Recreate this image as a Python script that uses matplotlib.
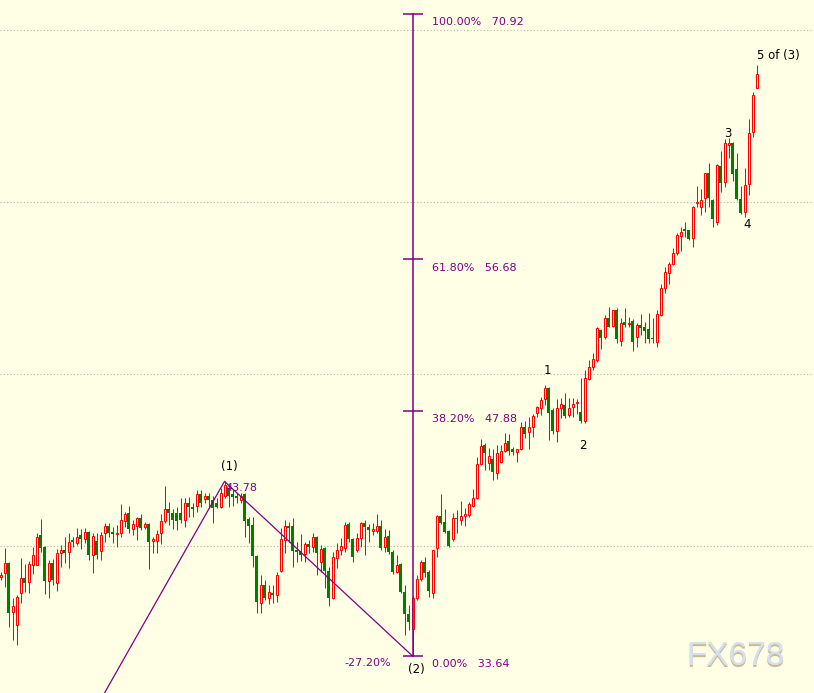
import numpy as np
import matplotlib.pyplot as plt

# daily OHLC (one value per candle, left to right)
opens = [38.23, 38.46, 39.05, 36.20, 35.44, 37.30, 38.17, 37.94, 38.93, 38.93,
         40.67, 39.97, 37.99, 39.05, 37.88, 39.62, 39.80, 39.68, 40.38, 40.20,
         40.67, 40.44, 40.84, 39.51, 40.32, 39.74, 40.78, 41.19, 40.84, 40.73,
         40.78, 41.48, 41.94, 41.02, 41.19, 41.65, 41.13, 41.31, 40.32, 40.32,
         40.78, 41.48, 42.18, 41.94, 41.94, 41.94, 41.54, 42.53, 42.29, 42.35,
         43.05, 42.76, 42.93, 42.70, 42.53, 42.29, 42.93, 43.40, 43.05, 42.93,
         42.70, 43.05, 41.60, 41.25, 39.45, 36.72, 37.76, 37.01, 37.30, 37.18,
         38.58, 40.38, 41.19, 41.19, 39.80, 39.74, 39.57, 40.15, 39.97, 40.55,
         39.10, 39.91, 38.58, 37.01, 39.33, 39.80, 39.91, 41.31, 40.44, 39.80,
         40.49, 41.36, 41.13, 40.90, 40.90, 41.19, 39.97, 40.61, 39.68, 38.52,
         38.99, 37.36, 36.08, 35.21, 37.01, 38.11, 39.10, 38.52, 37.30, 39.91,
         41.77, 41.42, 40.90, 40.44, 41.65, 41.54, 41.77, 41.83, 42.35, 42.82,
         44.79, 45.89, 44.85, 45.08, 44.27, 44.91, 45.55, 46.13, 45.66, 45.49,
         45.66, 46.94, 46.65, 46.94, 47.75, 48.04, 48.56, 49.20, 47.93, 46.71,
         48.04, 48.22, 47.64, 48.10, 48.33, 47.81, 47.29, 49.73, 50.42, 50.83,
         52.57, 52.17, 53.27, 52.80, 53.73, 51.93, 53.04, 52.92, 53.09, 52.17,
         52.86, 52.74, 52.63, 52.11, 51.87, 53.44, 55.01, 55.88, 56.41, 57.04,
         58.03, 58.44, 58.38, 57.91, 59.94, 59.71, 60.24, 61.69, 60.12, 58.84,
         62.10, 61.17, 63.32, 63.43, 61.92, 60.18, 59.42, 61.05, 64.07, 66.63]

highs = [38.52, 39.91, 39.10, 37.01, 37.18, 39.33, 38.99, 39.16, 39.97, 40.78,
         41.60, 40.00, 39.22, 39.28, 39.86, 40.09, 40.55, 40.78, 40.55, 41.07,
         41.02, 41.07, 40.90, 40.78, 40.78, 40.84, 41.36, 41.36, 41.13, 41.25,
         42.47, 42.00, 42.35, 41.54, 41.71, 41.89, 41.42, 41.36, 40.55, 40.96,
         41.89, 43.51, 42.58, 42.18, 42.29, 42.82, 42.82, 42.87, 42.53, 43.28,
         43.28, 43.11, 43.11, 42.93, 42.82, 43.40, 43.78, 43.57, 43.28, 43.11,
         43.11, 43.10, 41.71, 41.71, 39.50, 38.35, 38.05, 37.76, 37.76, 38.52,
         41.07, 41.54, 41.42, 41.65, 40.26, 40.73, 40.26, 40.38, 40.78, 40.61,
         40.09, 39.95, 38.81, 39.68, 40.20, 40.49, 41.42, 41.42, 40.49, 40.78,
         41.42, 41.54, 41.31, 41.36, 41.89, 41.54, 41.02, 40.96, 39.80, 39.51,
         39.05, 37.76, 36.60, 37.12, 38.35, 39.22, 39.39, 38.64, 39.82, 41.83,
         43.05, 42.18, 40.93, 41.94, 42.12, 42.64, 42.24, 42.58, 43.34, 45.20,
         46.24, 46.01, 45.72, 45.66, 45.89, 45.89, 46.59, 46.53, 45.78, 45.68,
         47.23, 47.29, 47.52, 47.70, 48.16, 48.68, 49.38, 49.26, 48.04, 48.56,
         48.62, 48.91, 48.62, 48.62, 48.56, 49.78, 50.25, 50.83, 51.24, 52.74,
         52.63, 53.44, 53.91, 53.75, 53.85, 53.27, 53.85, 53.33, 53.21, 52.98,
         53.50, 53.04, 53.56, 53.27, 53.73, 55.24, 56.23, 56.52, 57.33, 58.20,
         58.55, 58.84, 58.40, 59.75, 60.94, 60.76, 61.71, 62.27, 60.18, 62.20,
         62.97, 63.66, 63.72, 63.49, 62.85, 60.94, 61.98, 64.83, 66.39, 67.96]

lows = [38.05, 37.65, 35.32, 34.57, 34.28, 36.72, 37.36, 37.30, 38.40, 38.90,
        39.68, 37.24, 37.01, 37.76, 37.41, 38.81, 39.05, 38.75, 39.97, 40.09,
        39.86, 40.20, 39.22, 38.46, 39.28, 39.22, 40.26, 40.55, 40.20, 39.97,
        40.55, 41.13, 40.78, 40.67, 40.38, 40.96, 41.02, 38.69, 39.62, 39.62,
        40.15, 41.36, 41.25, 41.02, 40.96, 41.36, 41.13, 41.71, 41.71, 42.00,
        42.29, 42.53, 42.24, 41.36, 42.24, 42.26, 42.82, 42.29, 42.35, 42.53,
        42.53, 40.55, 40.20, 38.81, 36.14, 36.14, 36.89, 36.66, 36.72, 36.78,
        38.52, 39.62, 40.26, 38.81, 39.10, 39.16, 39.10, 39.62, 39.68, 38.35,
        38.52, 37.59, 36.54, 36.95, 38.75, 39.51, 39.68, 40.26, 39.10, 39.68,
        39.97, 39.51, 40.26, 40.67, 40.78, 39.80, 39.68, 39.57, 38.40, 38.46,
        37.30, 34.86, 35.15, 33.64, 36.89, 37.99, 38.23, 37.07, 37.01, 39.39,
        41.31, 40.78, 39.97, 40.32, 40.78, 41.25, 41.19, 41.71, 42.29, 42.76,
        44.73, 44.44, 44.44, 43.86, 43.92, 44.85, 45.49, 45.31, 45.31, 44.91,
        45.60, 46.30, 45.66, 46.36, 47.52, 47.64, 48.22, 46.18, 46.53, 46.07,
        47.46, 47.46, 47.52, 47.52, 47.70, 47.17, 47.17, 49.67, 50.25, 50.71,
        51.47, 52.05, 52.74, 52.74, 51.82, 51.64, 52.74, 52.74, 51.35, 51.58,
        52.28, 51.82, 51.82, 51.82, 51.58, 53.38, 54.72, 55.24, 56.35, 56.93,
        57.16, 57.97, 57.80, 57.39, 59.71, 59.25, 59.42, 59.71, 58.55, 58.67,
        60.59, 60.88, 62.56, 61.23, 60.12, 59.31, 59.13, 60.41, 63.78, 66.63]

closes = [38.35, 39.05, 36.14, 36.54, 37.07, 38.17, 37.88, 38.99, 39.51, 40.55,
          39.91, 37.99, 39.05, 38.05, 39.62, 39.80, 39.62, 40.26, 40.26, 40.55,
          40.44, 40.84, 39.51, 40.61, 39.51, 40.67, 41.19, 40.78, 40.73, 40.78,
          41.54, 41.89, 41.02, 41.31, 41.65, 41.07, 41.31, 40.26, 40.44, 40.73,
          41.48, 42.18, 41.94, 41.54, 41.48, 41.54, 42.53, 42.29, 42.18, 43.05,
          42.53, 42.93, 42.70, 42.24, 42.29, 43.11, 43.57, 42.93, 42.88, 42.82,
          42.93, 41.48, 41.19, 39.45, 36.78, 37.76, 37.01, 37.36, 37.18, 38.35,
          40.44, 41.19, 41.07, 39.74, 39.68, 39.51, 40.15, 39.97, 40.55, 39.62,
          39.86, 38.58, 37.01, 39.39, 39.80, 40.03, 41.25, 40.44, 39.39, 40.49,
          41.36, 41.13, 40.96, 41.02, 41.19, 39.91, 40.55, 39.68, 38.52, 38.93,
          37.36, 36.08, 35.61, 37.01, 38.11, 39.10, 38.46, 37.41, 39.80, 41.77,
          41.36, 40.84, 40.03, 41.65, 41.60, 41.77, 41.89, 42.47, 42.82, 44.79,
          45.84, 45.43, 45.25, 44.33, 45.43, 45.55, 46.01, 45.55, 45.49, 45.66,
          46.94, 46.53, 46.94, 47.58, 48.10, 48.51, 49.20, 47.75, 46.71, 48.04,
          48.27, 47.58, 48.04, 48.27, 48.39, 47.29, 49.78, 50.42, 50.89, 52.68,
          52.11, 53.27, 52.74, 53.73, 52.05, 52.98, 52.86, 52.98, 51.87, 52.86,
          52.69, 52.51, 52.05, 52.05, 53.50, 55.01, 55.94, 56.41, 57.04, 58.09,
          58.26, 58.32, 57.86, 59.71, 60.00, 60.12, 61.69, 60.24, 59.02, 62.15,
          61.11, 63.43, 63.43, 61.63, 60.18, 59.37, 60.99, 64.01, 66.22, 67.44]

# fibonacci retracement drawn from wave (2) low to the 100% level
fib_pct = [0.0, 38.2, 61.8, 100.0]
fib_price = [33.64, 47.88, 56.68, 70.92]
fib_bar = 103

grid_levels = [40, 50, 60, 70]

# elliott wave zigzag (bar index, price)
wave_x = [20, 56, 103]
wave_y = [29.03, 43.78, 33.64]

# wave labels: text, bar position, price position
labels = [("(1)", 57.2, 44.62),
          ("(2)", 103.9, 32.83),
          ("1", 136.7, 50.19),
          ("2", 145.7, 45.89),
          ("3", 181.9, 64.01),
          ("4", 186.7, 58.67),
          ("5 of (3)", 194.4, 68.54)]

bg = '#FFFFE6'
red = '#FF0000'
green = '#008000'
purple = '#800080'
px = 0.72  # one pixel in points at 100 dpi

fig = plt.figure(figsize=(8.14, 6.93), dpi=100)
fig.patch.set_facecolor(bg)
ax = fig.add_axes([0, 0, 1, 1])
ax.set_facecolor(bg)
# 4 px per bar, bars sit on pixel centres
ax.set_xlim(-0.125, 203.375)
ax.set_ylim(31.49, 71.735)
ax.axis('off')

for lv in grid_levels:
    ax.axhline(lv, color='#B5B5A5', lw=0.8, ls=(0, (1, 2)), zorder=0)

o = np.array(opens)
h = np.array(highs)
l = np.array(lows)
c = np.array(closes)
x = np.arange(len(o))
up = c >= o

ax.vlines(x[up], l[up], h[up], color=red, lw=px, zorder=2)
ax.vlines(x[~up], l[~up], h[~up], color=green, lw=px, zorder=2)
ax.bar(x[up], (c - o)[up], bottom=o[up], width=0.5, facecolor=bg,
       edgecolor=red, lw=px, zorder=3)
ax.bar(x[~up], (o - c)[~up], bottom=c[~up], width=0.75, color=green,
       lw=0, zorder=3)

# wave lines
ax.plot(wave_x, wave_y, color=purple, lw=0.9, zorder=4)

# fib tool
ax.plot([fib_bar, fib_bar], [fib_price[0], fib_price[-1]], color=purple, lw=1.1, zorder=5)
ax.hlines(fib_price, fib_bar - 2.5, fib_bar + 2.5, color=purple, lw=1.1, zorder=5)
for pct, pr in zip(fib_pct, fib_price):
    ax.annotate(f"{pct:.2f}%   {pr:.2f}", (107.9, pr), xytext=(0, -6),
                textcoords='offset points', ha='left', va='center',
                fontsize=8, color=purple)

ax.text(56.2, 43.40, "43.78", ha='left', va='center', fontsize=8, color=purple, zorder=6)
ax.text(97.7, 33.24, "-27.20%", ha='right', va='center', fontsize=8, color=purple)

for txt, lx, ly in labels:
    ax.text(lx, ly, txt, ha='center', va='center', fontsize=8.5, color='black', zorder=6)

# watermark
fig.text(0.904, 0.050, "FX678", ha='center', va='center', fontsize=24,
         family='Liberation Sans', color='#C9B994')
fig.text(0.903, 0.052, "FX678", ha='center', va='center', fontsize=24,
         family='Liberation Sans', color='#D4E0EE')

fig.savefig("out.png", dpi=100, facecolor=bg)
